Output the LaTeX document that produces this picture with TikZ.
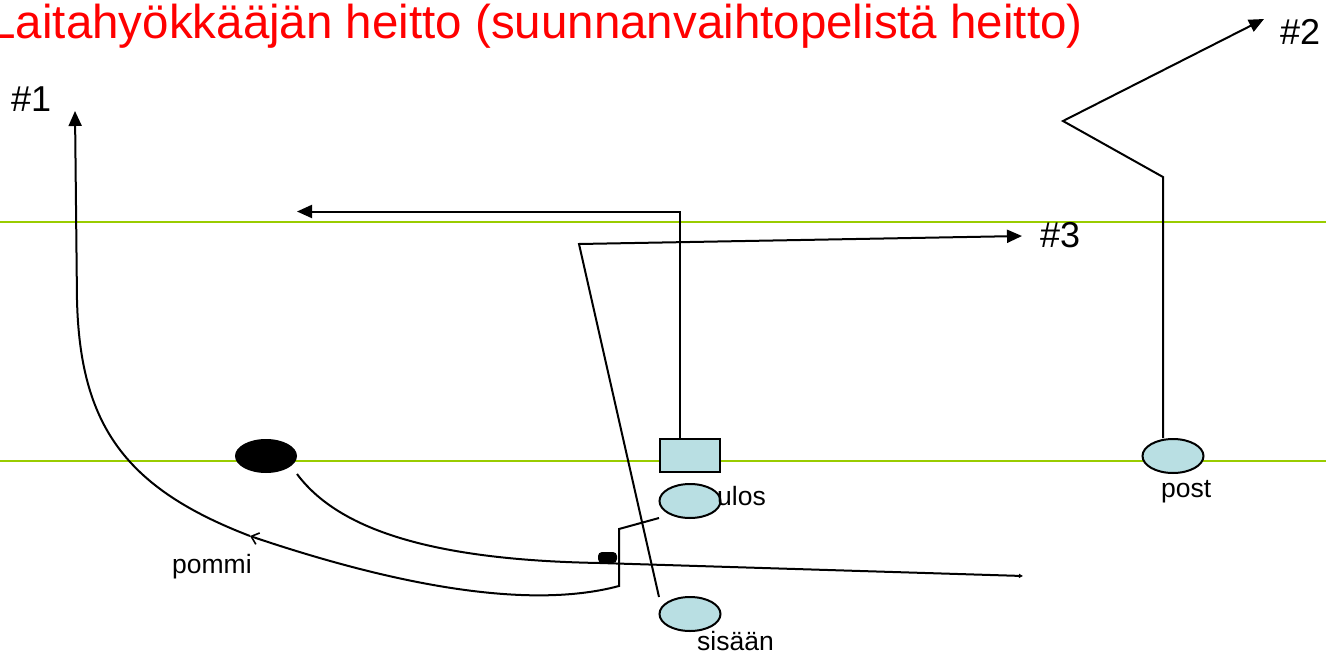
\documentclass[tikz,border=0pt]{standalone}
\usepackage{fontspec}
\setmainfont{Liberation Sans}
\usetikzlibrary{shapes.geometric,arrows.meta,calc}
\definecolor{fieldline}{RGB}{153,204,0}
\definecolor{player}{RGB}{185,223,227}
\definecolor{titlered}{RGB}{255,0,0}

\begin{document}
\begin{tikzpicture}[x=1pt,y=-1pt,
  route/.style={line width=2pt, line join=miter},
  tri/.style={-{Triangle[length=15pt,width=13pt]}},
  barb/.style={-{Straight Barb[length=7pt,width=12pt,line width=1.6pt]}},
  yard/.style={fieldline, line width=2.6pt},
  rec/.style={ellipse, draw, line width=2pt, fill=player,
              minimum width=61pt, minimum height=34pt, inner sep=0pt},
  lbl/.style={font=\fontsize{26.5}{30}\selectfont, inner sep=0pt},
  num/.style={font=\fontsize{36}{40}\selectfont, inner sep=0pt},
]
\useasboundingbox (0,0) rectangle (1326,656);
\clip (0,0) rectangle (1326,656);

% yard lines
\draw[yard] (0,222) -- (1326,222);
\draw[yard] (0,461) -- (1326,461);

% heading
\node[font=\fontsize{47.5}{52}\selectfont, text=titlered, anchor=base east, inner sep=0pt]
  (title) at (1083,38) {Laitahyökkääjän heitto (suunnanvaihtopelistä heitto)};

% players
\node[ellipse, fill=black, minimum width=62pt, minimum height=34pt, inner sep=0pt] (qb) at (266,456) {};
\node[rectangle, draw, line width=2pt, fill=player, minimum width=60pt, minimum height=33pt, inner sep=0pt] (ctr) at (690,455.5) {};
\node[rec] (ulos) at (690,501) {};
\node[rec] (sis) at (690,614) {};
\node[rec] (post) at (1173,456) {};
\node[fill=black, rounded corners=4pt, minimum width=19pt, minimum height=11pt, inner sep=0pt] (blob) at (607.5,557.5) {};

% labels
\node[lbl, anchor=base west] (lulos) at (717,505) {ulos};
\node[lbl, anchor=base west] (lpost) at (1161,497) {post};
\node[lbl, anchor=base west] (lsis) at (697,650) {sisään};
\node[lbl, anchor=base west] (lpommi) at (172,573) {pommi};
\node[num, anchor=base west] (n1) at (11,111) {\#1};
\node[num, anchor=base west] (n2) at (1280,44) {\#2};
\node[num, anchor=base west] (n3) at (1040,247) {\#3};

% route end points
\coordinate (t1) at (75,111);
\coordinate (t2) at (1264,19);
\coordinate (t3) at (1022,236);
\coordinate (tl) at (297,211.5);
\coordinate (catch) at (250,536);
\coordinate (pass) at (1023,576);

% center: up, then out to the left
\draw[route,tri] ([xshift=-10pt]ctr.north) |- (tl);
% post route, #2
\draw[route,tri] ([xshift=-10pt]post.north) -- (1163,177) -- (1063,121) -- (t2);
% sisään route, #3
\draw[route,tri] ($(sis.center)+(-31,-17)$) -- (579,244) -- (t3);
% ulos route back to the catch point
\draw[route,barb] ($(ulos.center)+(-31,17)$) -- (619,529) -- (619,586)
  .. controls (522,612) and (380,580) .. (catch);
% pommi, #1
\draw[route,tri] (catch) .. controls (125,488) and (80,425) .. (77,300) -- (t1);
% quarterback line
\draw[route,-{Triangle[length=4pt,width=4pt]}] ($(qb.center)+(31,18)$)
  .. controls (335,525) and (420,560) .. (600,563) -- (pass);
\end{tikzpicture}
\end{document}
